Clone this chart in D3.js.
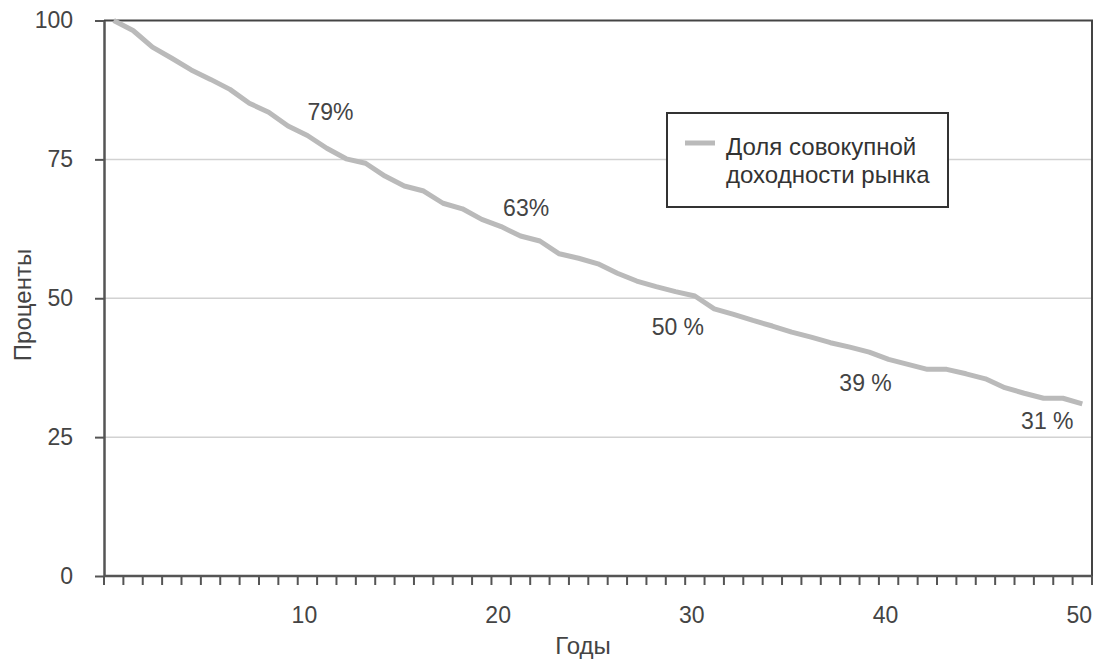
<!DOCTYPE html>
<html>
<head>
<meta charset="utf-8">
<script src="https://cdn.jsdelivr.net/npm/d3@7"></script>
<style>
  body { margin: 0; background: #fff; }
  svg { font-family: "Liberation Sans", Arial, sans-serif; }
  .axis text { fill: #444; font-size: 23px; }
  .axis path, .axis line { stroke: #555; }
</style>
</head>
<body>
<svg id="chart" width="1098" height="664"></svg>
<script>
// years on the category axis
var years = d3.range(0, 51);
// share of cumulative market return, percent
var share = [100, 98.2, 95.2, 93.2, 91.1, 89.4, 87.6, 85.1, 83.5, 81.0,
             79.3, 77.0, 75.1, 74.3, 72.0, 70.2, 69.3, 67.1, 66.1, 64.2,
             62.9, 61.2, 60.3, 58.0, 57.2, 56.2, 54.5, 53.1, 52.1, 51.2,
             50.4, 48.1, 47.1, 46.0, 45.0, 43.9, 43.0, 42.0, 41.2, 40.3,
             39.0, 38.1, 37.2, 37.2, 36.4, 35.5, 33.9, 32.9, 32.0, 32.0,
             31.0];
var yTicks = [0, 25, 50, 75, 100];
var xLabels = [10, 20, 30, 40, 50];
var noteYears = [10, 20, 30, 40, 50];
var noteTexts = ["79%", "63%", "50 %", "39 %", "31 %"];
var seriesName = ["Доля совокупной", "доходности рынка"];

function drawChart(){
  var margin = {top: 20.5, right: 6, bottom: 88, left: 104},
      width = 1098 - margin.left - margin.right,
      height = 664 - margin.top - margin.bottom;

  var svg = d3.select("#chart")
    .append("g")
      .attr("transform", "translate(" + margin.left + "," + margin.top + ")");

  var x = d3.scaleBand()
    .domain(years)
    .range([0, width])
    .padding(0);

  var y = d3.scaleLinear()
    .domain([0, 100])
    .range([height, 0]);

  // gridlines
  svg.append("g")
    .selectAll("line")
    .data(yTicks.filter(function(d){ return d > 0 && d < 100; }))
    .enter().append("line")
      .attr("x1", 0)
      .attr("x2", width)
      .attr("y1", function(d){ return y(d); })
      .attr("y2", function(d){ return y(d); })
      .style("stroke", "#d2d2d2")
      .style("stroke-width", 1.5);

  // top and right frame
  svg.append("path")
    .attr("d", "M0," + y(100) + "H" + width + "V" + height)
    .style("fill", "none")
    .style("stroke", "#444")
    .style("stroke-width", 2);

  // y axis
  var yAxis = svg.append("g")
    .attr("class", "axis y")
    .call(d3.axisLeft(y).tickValues(yTicks).tickSize(9).tickPadding(22).tickSizeOuter(0));
  yAxis.select(".domain").style("stroke-width", 2.5);
  yAxis.selectAll(".tick line").style("stroke-width", 2);

  // x axis: ticks on band edges
  var xAxis = svg.append("g")
    .attr("class", "axis x")
    .attr("transform", "translate(0," + height + ")");
  xAxis.append("line")
    .attr("x1", 0).attr("x2", width)
    .style("stroke-width", 2.5);
  xAxis.selectAll(".edge")
    .data(years.concat([null]))
    .enter().append("line")
      .attr("class", "edge")
      .attr("x1", function(d){ return d === null ? width : x(d); })
      .attr("x2", function(d){ return d === null ? width : x(d); })
      .attr("y1", 0)
      .attr("y2", 9)
      .style("stroke-width", 2);

  var xLab = svg.append("g")
    .attr("class", "axis x")
    .attr("transform", "translate(-3," + height + ")")
    .call(d3.axisBottom(x).tickValues(xLabels).tickSize(0).tickPadding(31));
  xLab.select(".domain").remove();

  // axis titles
  svg.append("text")
    .text("Годы")
    .attr("x", 583 - margin.left)
    .attr("y", 654 - margin.top)
    .style("text-anchor", "middle")
    .style("font-size", "24px")
    .style("fill", "#444");

  svg.append("text")
    .text("Проценты")
    .attr("transform", "translate(" + (31 - margin.left) + "," + (305 - margin.top) + ") rotate(-90)")
    .style("text-anchor", "middle")
    .style("font-size", "24px")
    .style("fill", "#444");

  // the line
  var line = d3.line()
    .x(function(d, i){ return x(years[i]) + x.bandwidth() / 2; })
    .y(function(d){ return y(d); });

  svg.append("path")
    .datum(share)
    .attr("d", line)
    .style("fill", "none")
    .style("stroke", "#bababa")
    .style("stroke-width", 5)
    .style("stroke-linejoin", "round");

  // value notes, nudged off the line
  var nudge = [[23, -24], [25, -19], [-17, 31], [-23, 24], [-35, 17]];
  svg.append("g")
    .selectAll("text")
    .data(noteYears)
    .enter().append("text")
      .text(function(d, i){ return noteTexts[i]; })
      .attr("x", function(d, i){ return x(d) + x.bandwidth() / 2 + nudge[i][0]; })
      .attr("y", function(d, i){ return y(share[years.indexOf(d)]) + nudge[i][1]; })
      .attr("dy", "0.35em")
      .style("text-anchor", "middle")
      .style("font-size", "23px")
      .style("fill", "#444");

  // legend
  var legend = svg.append("g")
    .attr("transform", "translate(" + (667 - margin.left) + "," + (113 - margin.top) + ")");
  legend.append("rect")
    .attr("width", 281)
    .attr("height", 94)
    .style("fill", "#fff")
    .style("stroke", "#333")
    .style("stroke-width", 2);
  legend.append("line")
    .attr("x1", 18).attr("x2", 48)
    .attr("y1", 30).attr("y2", 30)
    .style("stroke", "#bababa")
    .style("stroke-width", 5);
  legend.selectAll(".lt")
    .data(seriesName)
    .enter().append("text")
      .attr("class", "lt")
      .text(function(d){ return d; })
      .attr("x", 59)
      .attr("y", function(d, i){ return 42 + i * 28; })
      .style("font-size", "24px")
      .style("fill", "#333");
}

drawChart();
</script>
</body>
</html>
